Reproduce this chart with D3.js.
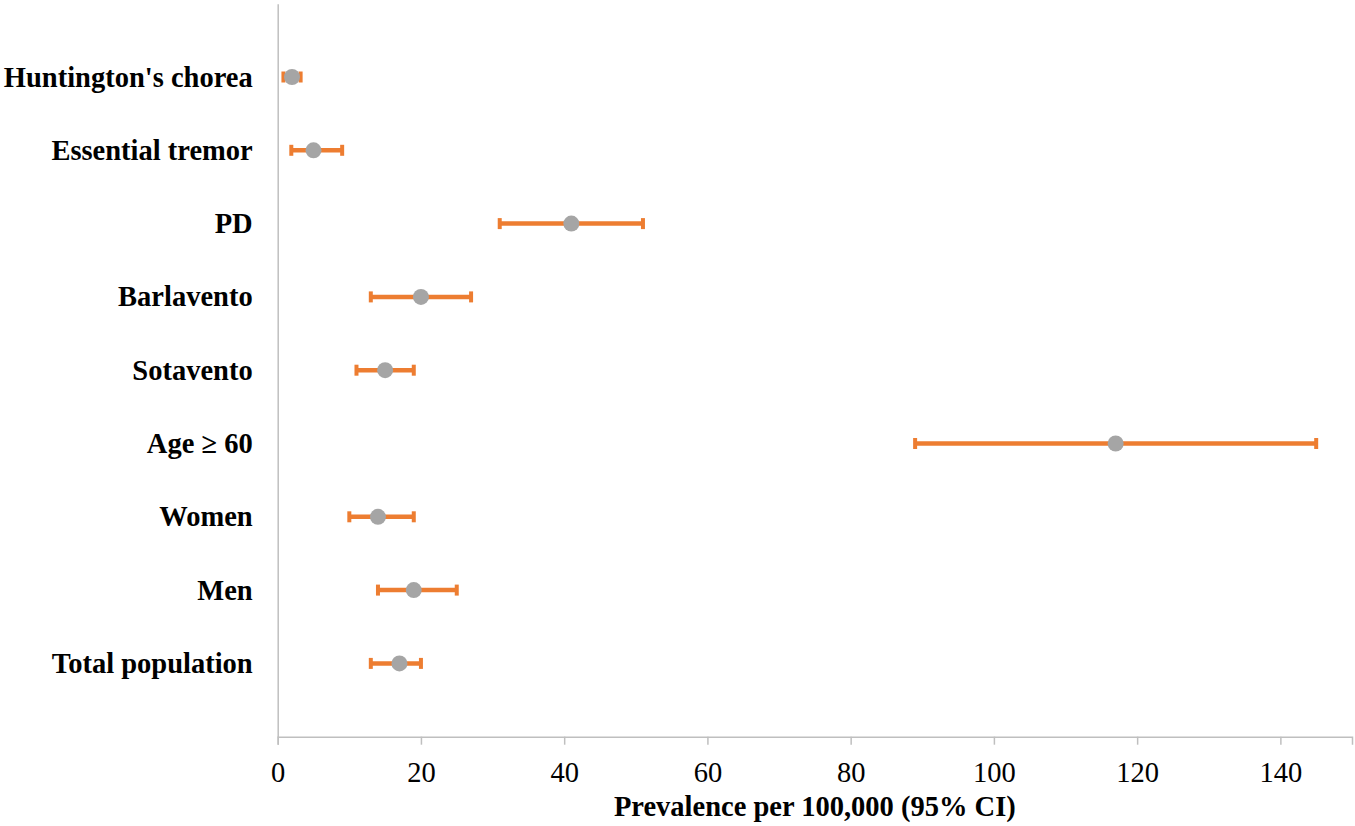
<!DOCTYPE html>
<html lang="en">
<head>
<meta charset="UTF-8">
<title>Prevalence per 100,000</title>
<style>
  body { margin: 0; background: #fff; }
</style>
</head>
<body>
<script src="https://cdn.jsdelivr.net/npm/d3@7/dist/d3.min.js"></script>
<script>
  // categories from bottom (y=1) to top (y=9)
  const categories = ['Total population', 'Men', 'Women', 'Age \u2265 60', 'Sotavento',
    'Barlavento', 'PD', 'Essential tremor', "Huntington's chorea"];
  const prevalence = [17, 19, 14, 117, 15, 20, 41, 5, 2];
  const ciLow = [13, 14, 10, 89, 11, 13, 31, 1.9, 0.8];
  const ciHigh = [20, 25, 19, 145, 19, 27, 51, 9, 3.2];
  const xTicks = [0, 20, 40, 60, 80, 100, 120, 140];

  const w = 1355;
  const h = 826;
  const margin = { left: 277.7, right: 3, top: 3.7, bottom: 89.3 };

  const rows = categories.map((c, i) => ({
    name: c, pos: i + 1, value: prevalence[i], lo: ciLow[i], hi: ciHigh[i]
  }));

  const svg = d3.select('body')
    .append('svg')
    .attr('width', w)
    .attr('height', h);

  const xScale = d3.scaleLinear()
    .domain([0, 150])
    .range([margin.left, w - margin.right]);

  const yScale = d3.scaleLinear()
    .domain([0, 10])
    .range([h - margin.bottom, margin.top]);

  const axisColor = '#bfbfbf';
  const font = '"Liberation Serif", "Times New Roman", serif';
  const fontSize = '28.5px';

  // x axis
  const xAxis = svg.append('g')
    .attr('transform', `translate(0,${yScale(0)})`)
    .call(d3.axisBottom(xScale).tickValues(xTicks).tickSize(8).tickPadding(17));
  xAxis.select('.domain').attr('stroke', axisColor).attr('stroke-width', 1.5);
  xAxis.selectAll('.tick line').attr('stroke', axisColor).attr('stroke-width', 1.5);
  xAxis.selectAll('.tick text')
    .attr('font-family', font)
    .attr('font-size', fontSize)
    .attr('fill', '#000');

  // y axis (line only)
  const yAxis = svg.append('g')
    .attr('transform', `translate(${xScale(0)},0)`)
    .call(d3.axisLeft(yScale).tickValues([]).tickSizeOuter(0));
  yAxis.select('.domain').attr('stroke', axisColor).attr('stroke-width', 1.5);

  // category labels
  svg.selectAll('text.cat')
    .data(rows)
    .enter()
    .append('text')
    .attr('class', 'cat')
    .attr('x', xScale(0) - 25)
    .attr('y', (d) => yScale(d.pos) + 9.5)
    .attr('text-anchor', 'end')
    .attr('font-family', font)
    .attr('font-weight', 'bold')
    .attr('font-size', fontSize)
    .attr('fill', '#000')
    .text((d) => d.name);

  // error bars
  const orange = '#ed7d31';
  const bars = svg.append('g');
  bars.selectAll('line.ci')
    .data(rows)
    .enter()
    .append('line')
    .attr('x1', (d) => xScale(d.lo))
    .attr('x2', (d) => xScale(d.hi))
    .attr('y1', (d) => yScale(d.pos))
    .attr('y2', (d) => yScale(d.pos))
    .attr('stroke', orange)
    .attr('stroke-width', 4.5);

  const caps = rows.flatMap((d) => [{ x: d.lo, pos: d.pos }, { x: d.hi, pos: d.pos }]);
  bars.selectAll('line.cap')
    .data(caps)
    .enter()
    .append('line')
    .attr('x1', (d) => xScale(d.x))
    .attr('x2', (d) => xScale(d.x))
    .attr('y1', (d) => yScale(d.pos) - 5.5)
    .attr('y2', (d) => yScale(d.pos) + 5.5)
    .attr('stroke', orange)
    .attr('stroke-width', 4);

  // point estimates
  svg.selectAll('circle')
    .data(rows)
    .enter()
    .append('circle')
    .attr('cx', (d) => xScale(d.value))
    .attr('cy', (d) => yScale(d.pos))
    .attr('r', 8)
    .attr('fill', '#a5a5a5');

  // axis title
  svg.append('text')
    .attr('x', (xScale(0) + xScale(150)) / 2)
    .attr('y', 816)
    .attr('text-anchor', 'middle')
    .attr('font-family', font)
    .attr('font-weight', 'bold')
    .attr('font-size', fontSize)
    .attr('fill', '#000')
    .text('Prevalence per 100,000 (95% CI)');
</script>
</body>
</html>
